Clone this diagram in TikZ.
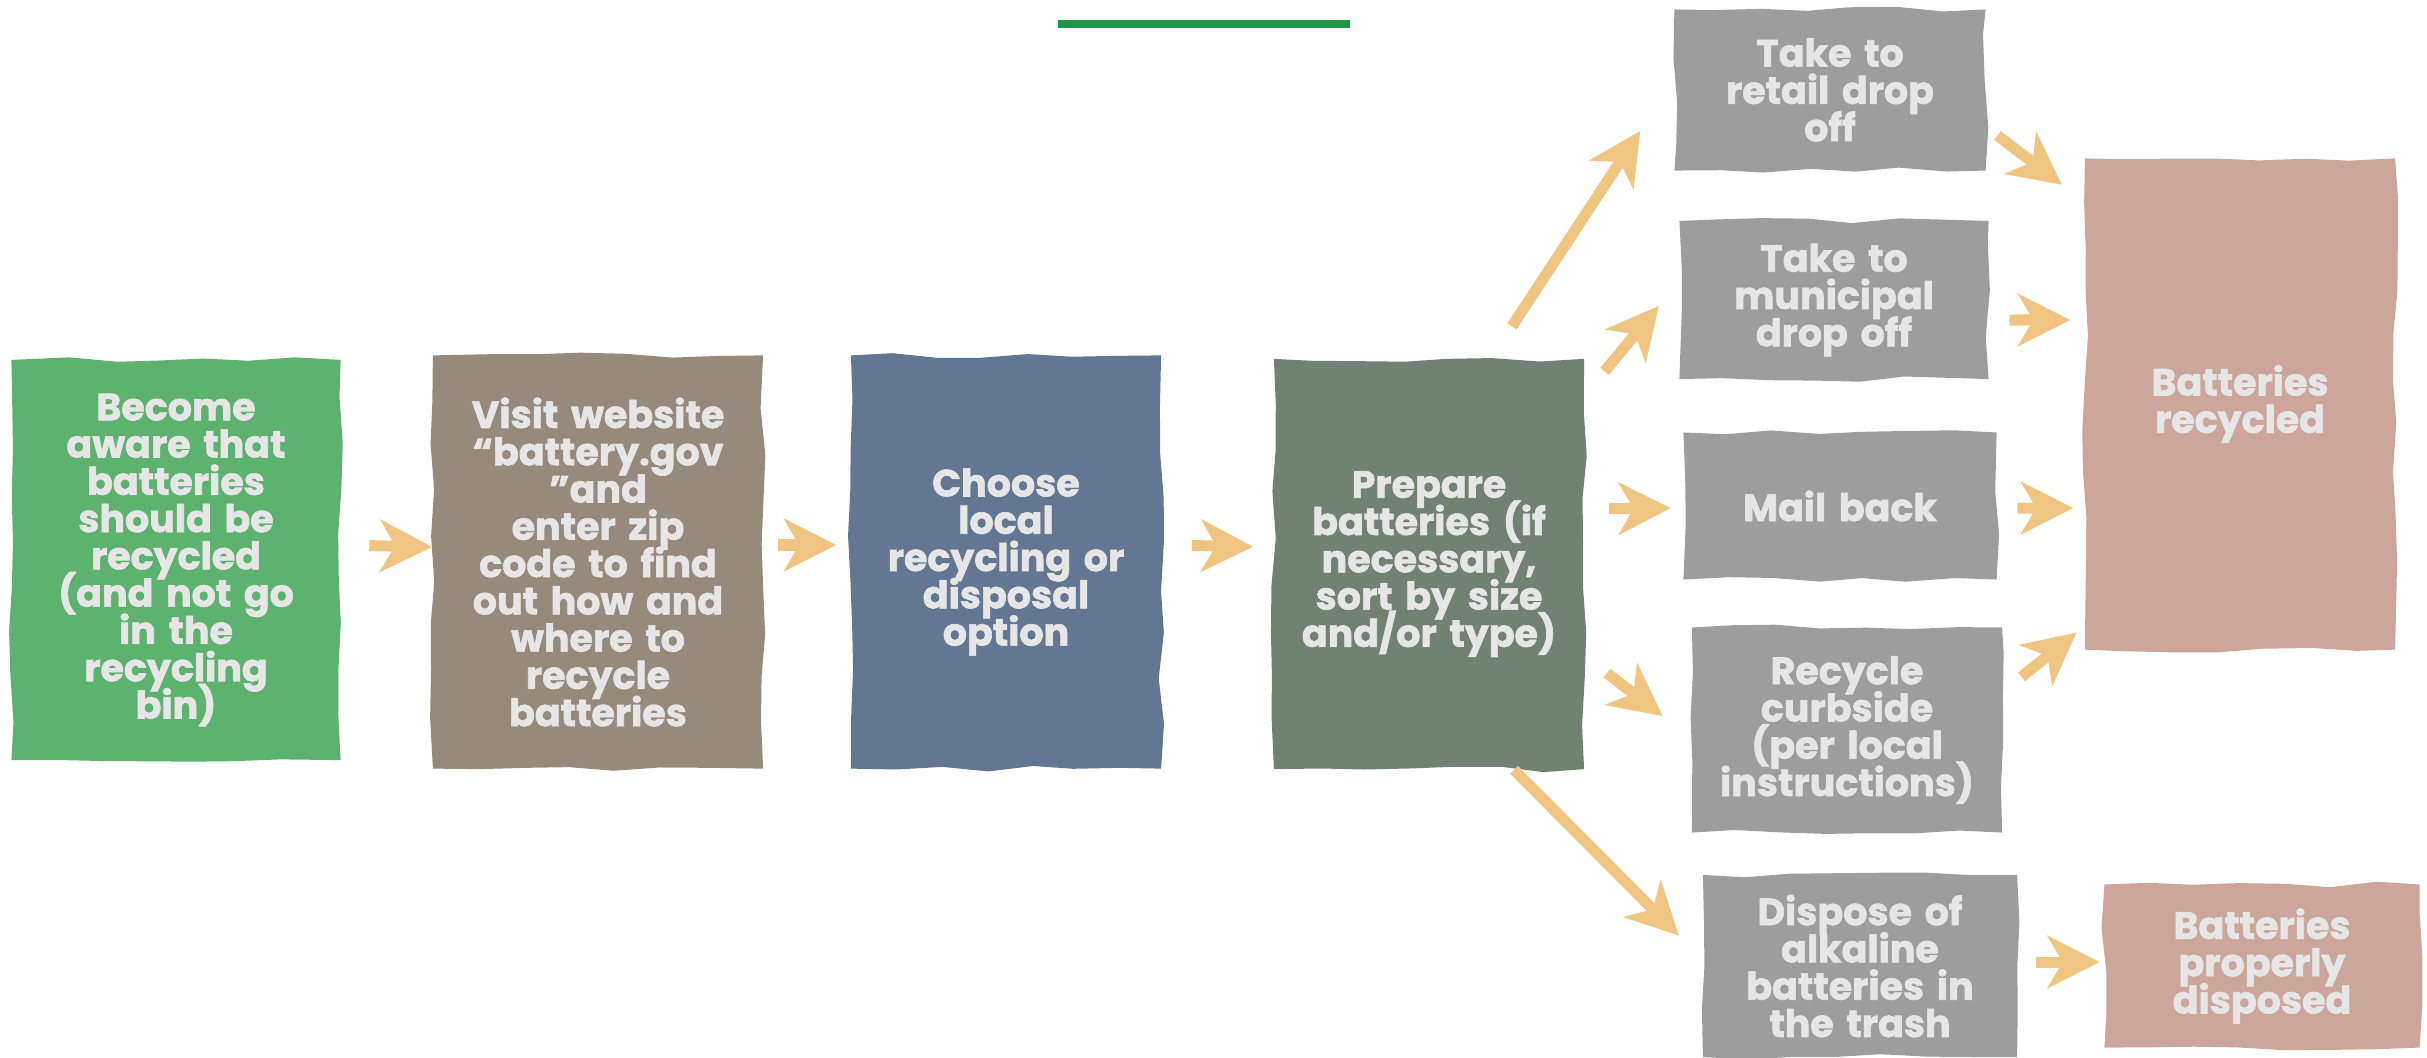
\documentclass[tikz,border=0pt]{standalone}
\usepackage{fontspec}
\setmainfont{Poppins}[BoldFont={Poppins Bold}, BoldFeatures={FakeBold=1.6}]
\usetikzlibrary{arrows.meta,decorations.pathmorphing}
\definecolor{stepgreen}{RGB}{94,178,112}
\definecolor{stepbrown}{RGB}{150,138,124}
\definecolor{stepblue}{RGB}{99,119,146}
\definecolor{stepsage}{RGB}{113,130,115}
\definecolor{optgray}{RGB}{157,157,157}
\definecolor{endrose}{RGB}{204,166,154}
\definecolor{boxtext}{RGB}{230,230,230}
\definecolor{arrowtan}{RGB}{240,197,130}
\definecolor{rulegreen}{RGB}{30,150,72}
\newcommand\boxlines{\fontsize{10.8}{10.6}\selectfont\bfseries\lineskiplimit=-1000pt\relax\lineskip=0pt\relax}
\begin{document}
\pgfmathsetseed{11}
\begin{tikzpicture}[x=0.01cm, y=-0.01cm,
  box/.style={inner sep=0pt, align=center, text width=3cm, text=boxtext,
    font=\boxlines,
    decorate, decoration={random steps, segment length=0.45cm, amplitude=0.03cm}},
  arr/.style={arrowtan, line width=0.11cm,
    -{Stealth[length=0.52cm, width=0.52cm, inset=0.15cm]}}]
\useasboundingbox (0,0) rectangle (2427,1057);
% top rule
\draw[rulegreen, line width=0.08cm] (1058,24) -- (1350,24);
% main steps
\node[box, fill=stepgreen, minimum width=3.29cm, minimum height=4cm] (aware) at (176,560) {Become\\aware that\\batteries\\should be\\recycled\\(and not go\\in the\\recycling\\bin)};
\node[box, fill=stepbrown, minimum width=3.3cm, minimum height=4.13cm] (visit) at (598,562) {Visit website\\“battery.gov\\”and\\enter zip\\code to find\\out how and\\where to\\recycle\\batteries};
\node[box, fill=stepblue, minimum width=3.1cm, minimum height=4.13cm] (choose) at (1006,562) {Choose\\local\\recycling or\\disposal\\option};
\node[box, fill=stepsage, minimum width=3.1cm, minimum height=4.1cm] (prep) at (1429,564) {Prepare\\batteries (if\\necessary,\\sort by size\\and/or type)};
% options
\node[box, fill=optgray, minimum width=3.11cm, minimum height=1.61cm] (retail) at (1830,90) {Take to\\retail drop\\off};
\node[box, fill=optgray, minimum width=3.09cm, minimum height=1.58cm] (municipal) at (1834,300) {Take to\\municipal\\drop off};
\node[box, fill=optgray, minimum width=3.13cm, minimum height=1.47cm] (mail) at (1840,506) {Mail back};
\node[box, fill=optgray, minimum width=3.1cm, minimum height=2.05cm] (curbside) at (1847,730) {Recycle\\curbside\\(per local\\instructions)};
\node[box, fill=optgray, minimum width=3.14cm, minimum height=1.82cm] (dispose) at (1860,966) {Dispose of\\alkaline\\batteries in\\the trash};
% results
\node[box, fill=endrose, minimum width=3.1cm, minimum height=4.91cm] (recycled) at (2240,404) {Batteries\\recycled};
\node[box, fill=endrose, minimum width=3.15cm, minimum height=1.63cm] (disposed) at (2262,966) {Batteries\\properly\\disposed};
% arrows
\draw[arr, shorten <=0.28cm] ([yshift=0.15cm]aware.east) -- ([yshift=0.15cm]visit.west);
\draw[arr, shorten <=0.14cm, shorten >=0.14cm] ([yshift=0.17cm]visit.east) -- ([yshift=0.17cm]choose.west);
\draw[arr, shorten <=0.3cm, shorten >=0.2cm] ([yshift=0.17cm]choose.east) -- ([yshift=0.17cm]prep.west);
\draw[arr, shorten <=0.38cm, shorten >=0.61cm] ([xshift=0.62cm]prep.north) -- ([yshift=0.1cm]retail.west);
\draw[arr, shorten <=0.31cm, shorten >=0.31cm] ([yshift=-0.37cm]prep.north east) -- ([yshift=0.18cm]municipal.west);
\draw[arr, shorten <=0.24cm, shorten >=0.12cm] ([yshift=0.55cm]prep.east) -- ([yshift=-0.02cm]mail.west);
\draw[arr, shorten <=0.28cm, shorten >=0.36cm] ([yshift=-0.92cm]prep.east) -- ([yshift=-0.08cm]curbside.west);
\draw[arr, shorten >=0.33cm] ([xshift=0.85cm]prep.south) -- ([yshift=0.07cm]dispose.west);
\draw[arr, shorten <=0.14cm, shorten >=0.28cm] ([yshift=-0.37cm]retail.east) -- ([yshift=-0.44cm]recycled.north west);
\draw[arr, shorten <=0.2cm, shorten >=0.14cm] ([yshift=-0.2cm]municipal.east) -- ([yshift=0.84cm]recycled.west);
\draw[arr, shorten <=0.2cm, shorten >=0.11cm] ([yshift=-0.02cm]mail.east) -- ([yshift=-1.04cm]recycled.west);
\draw[arr, shorten <=0.24cm, shorten >=0.1cm] ([yshift=0.38cm]curbside.east) -- ([yshift=0.24cm]recycled.south west);
\draw[arr, shorten <=0.18cm, shorten >=0.04cm] ([yshift=0.04cm]dispose.east) -- ([yshift=0.04cm]disposed.west);
\end{tikzpicture}
\end{document}
